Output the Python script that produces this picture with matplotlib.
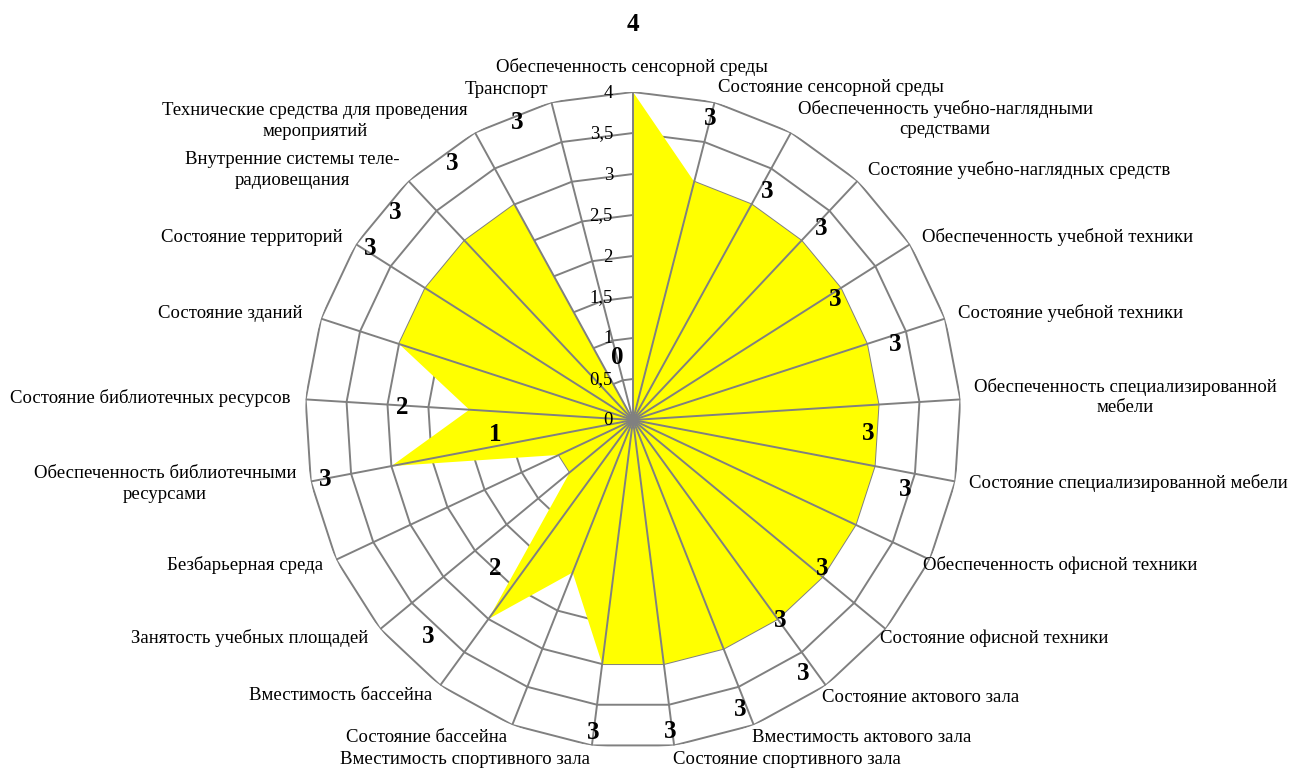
import numpy as np
import matplotlib
matplotlib.use("Agg")
import matplotlib.pyplot as plt

plt.rcParams['font.family'] = ['Liberation Serif', 'DejaVu Serif']

# ---------------- data ----------------
categories = [
    "Обеспеченность сенсорной среды",
    "Состояние сенсорной среды",
    "Обеспеченность учебно-наглядными\nсредствами",
    "Состояние учебно-наглядных средств",
    "Обеспеченность учебной техники",
    "Состояние учебной техники",
    "Обеспеченность специализированной\nмебели",
    "Состояние специализированной мебели",
    "Обеспеченность офисной техники",
    "Состояние офисной техники",
    "Состояние актового зала",
    "Вместимость актового зала",
    "Состояние спортивного зала",
    "Вместимость спортивного зала",
    "Состояние бассейна",
    "Вместимость бассейна",
    "Занятость учебных площадей",
    "Безбарьерная среда",
    "Обеспеченность библиотечными\nресурсами",
    "Состояние библиотечных ресурсов",
    "Состояние зданий",
    "Состояние территорий",
    "Внутренние системы теле-\nрадиовещания",
    "Технические средства для проведения\nмероприятий",
    "Транспорт",
]
values = [4, 3, 3, 3, 3, 3, 3, 3, 3, 3, 3, 3, 3, 3, 2, 3, 1, 1, 3, 2, 3, 3, 3, 3, 0]

r_ticks = [0, 0.5, 1, 1.5, 2, 2.5, 3, 3.5, 4]
r_tick_labels = ["0", "0,5", "1", "1,5", "2", "2,5", "3", "3,5", "4"]

# data labels as shown on the chart
data_label_texts = ["4", "3", "3", "3", "3", "3", "3", "3", "3", "3", "3", "3",
                    "3", "3", "3", "2", "3", "1", "2", "3", "3", "3", "3", "0"]

# ---------------- layout (positions only) ----------------
# data label placement: (angle in degrees clockwise from top, radius in axis units)
data_label_pos = [(0.0, 4.82), (14.3, 3.80), (30.4, 3.23), (44.5, 3.28), (59.3, 2.87),
                  (74.0, 3.32), (93.2, 2.87), (104.4, 3.43), (128.1, 2.93), (143.7, 3.03),
                  (146.1, 3.72), (159.7, 3.77), (173.2, 3.83), (187.3, 3.84), (223.4, 3.64),
                  (223.0, 2.47), (259.0, 3.83), (263.8, 1.69), (273.2, 2.82), (303.2, 3.83),
                  (311.2, 3.85), (324.8, 3.83), (338.7, 3.90), (345.7, 0.79)]

# category label anchors in figure pixels (from top-left) and alignment
cat_label_pos = [(632, 67, 'center'), (718, 88, 'left'), (945, 119, 'center'),
                 (868, 170, 'left'), (922, 237, 'left'), (958, 313, 'left'),
                 (1125, 397, 'center'), (969, 483, 'left'), (923, 565, 'left'),
                 (880, 638, 'left'), (822, 697, 'left'), (752, 738, 'left'),
                 (673, 759, 'left'), (590, 759, 'right'), (507, 737, 'right'),
                 (432, 696, 'right'), (368, 638, 'right'), (323, 565, 'right'),
                 (165, 484, 'center'), (290, 398, 'right'), (302, 313, 'right'),
                 (343, 237, 'right'), (292, 170, 'center'), (315, 121, 'center'),
                 (506, 89, 'center')]

W, H = 1289, 769
CX, CY, R = 633, 420, 328
GRID = '#808080'
FILL = '#FFFF00'

fig = plt.figure(figsize=(W / 100, H / 100), dpi=100)
ax = fig.add_axes([(CX - R) / W, (H - CY - R) / H, 2 * R / W, 2 * R / H],
                  projection='polar')
ax.set_theta_zero_location('N')
ax.set_theta_direction(-1)
ax.set_ylim(0, r_ticks[-1])
ax.axis('off')

N = len(categories)
theta = np.arange(N) * 2 * np.pi / N
theta_c = np.append(theta, theta[0])

# polygonal rings
for r in r_ticks[1:]:
    ax.plot(theta_c, [r] * (N + 1), color=GRID, lw=1.4, zorder=1)

# filled series
ax.fill(theta_c, values + [values[0]], color=FILL, lw=0, zorder=2)

# spokes
for t in theta:
    ax.plot([t, t], [0, r_ticks[-1]], color=GRID, lw=1.4, zorder=3)

# radial tick labels along the top spoke
for r, lbl in zip(r_ticks, r_tick_labels):
    ax.annotate(lbl, xy=(0, r), xytext=(-20, -1), textcoords='offset pixels',
                ha='right', va='center', fontsize=13.5, zorder=4)

# data labels
for txt, (ang, rr) in zip(data_label_texts, data_label_pos):
    ax.text(np.deg2rad(ang), rr, txt, ha='center', va='center',
            fontsize=18, fontweight='bold', zorder=5)

# category labels
for txt, (x, y, ha) in zip(categories, cat_label_pos):
    fig.text(x / W, 1 - y / H, txt, ha=ha, va='center', multialignment='center',
             fontsize=13.5, linespacing=1.28)

fig.savefig('out.png', dpi=100)
